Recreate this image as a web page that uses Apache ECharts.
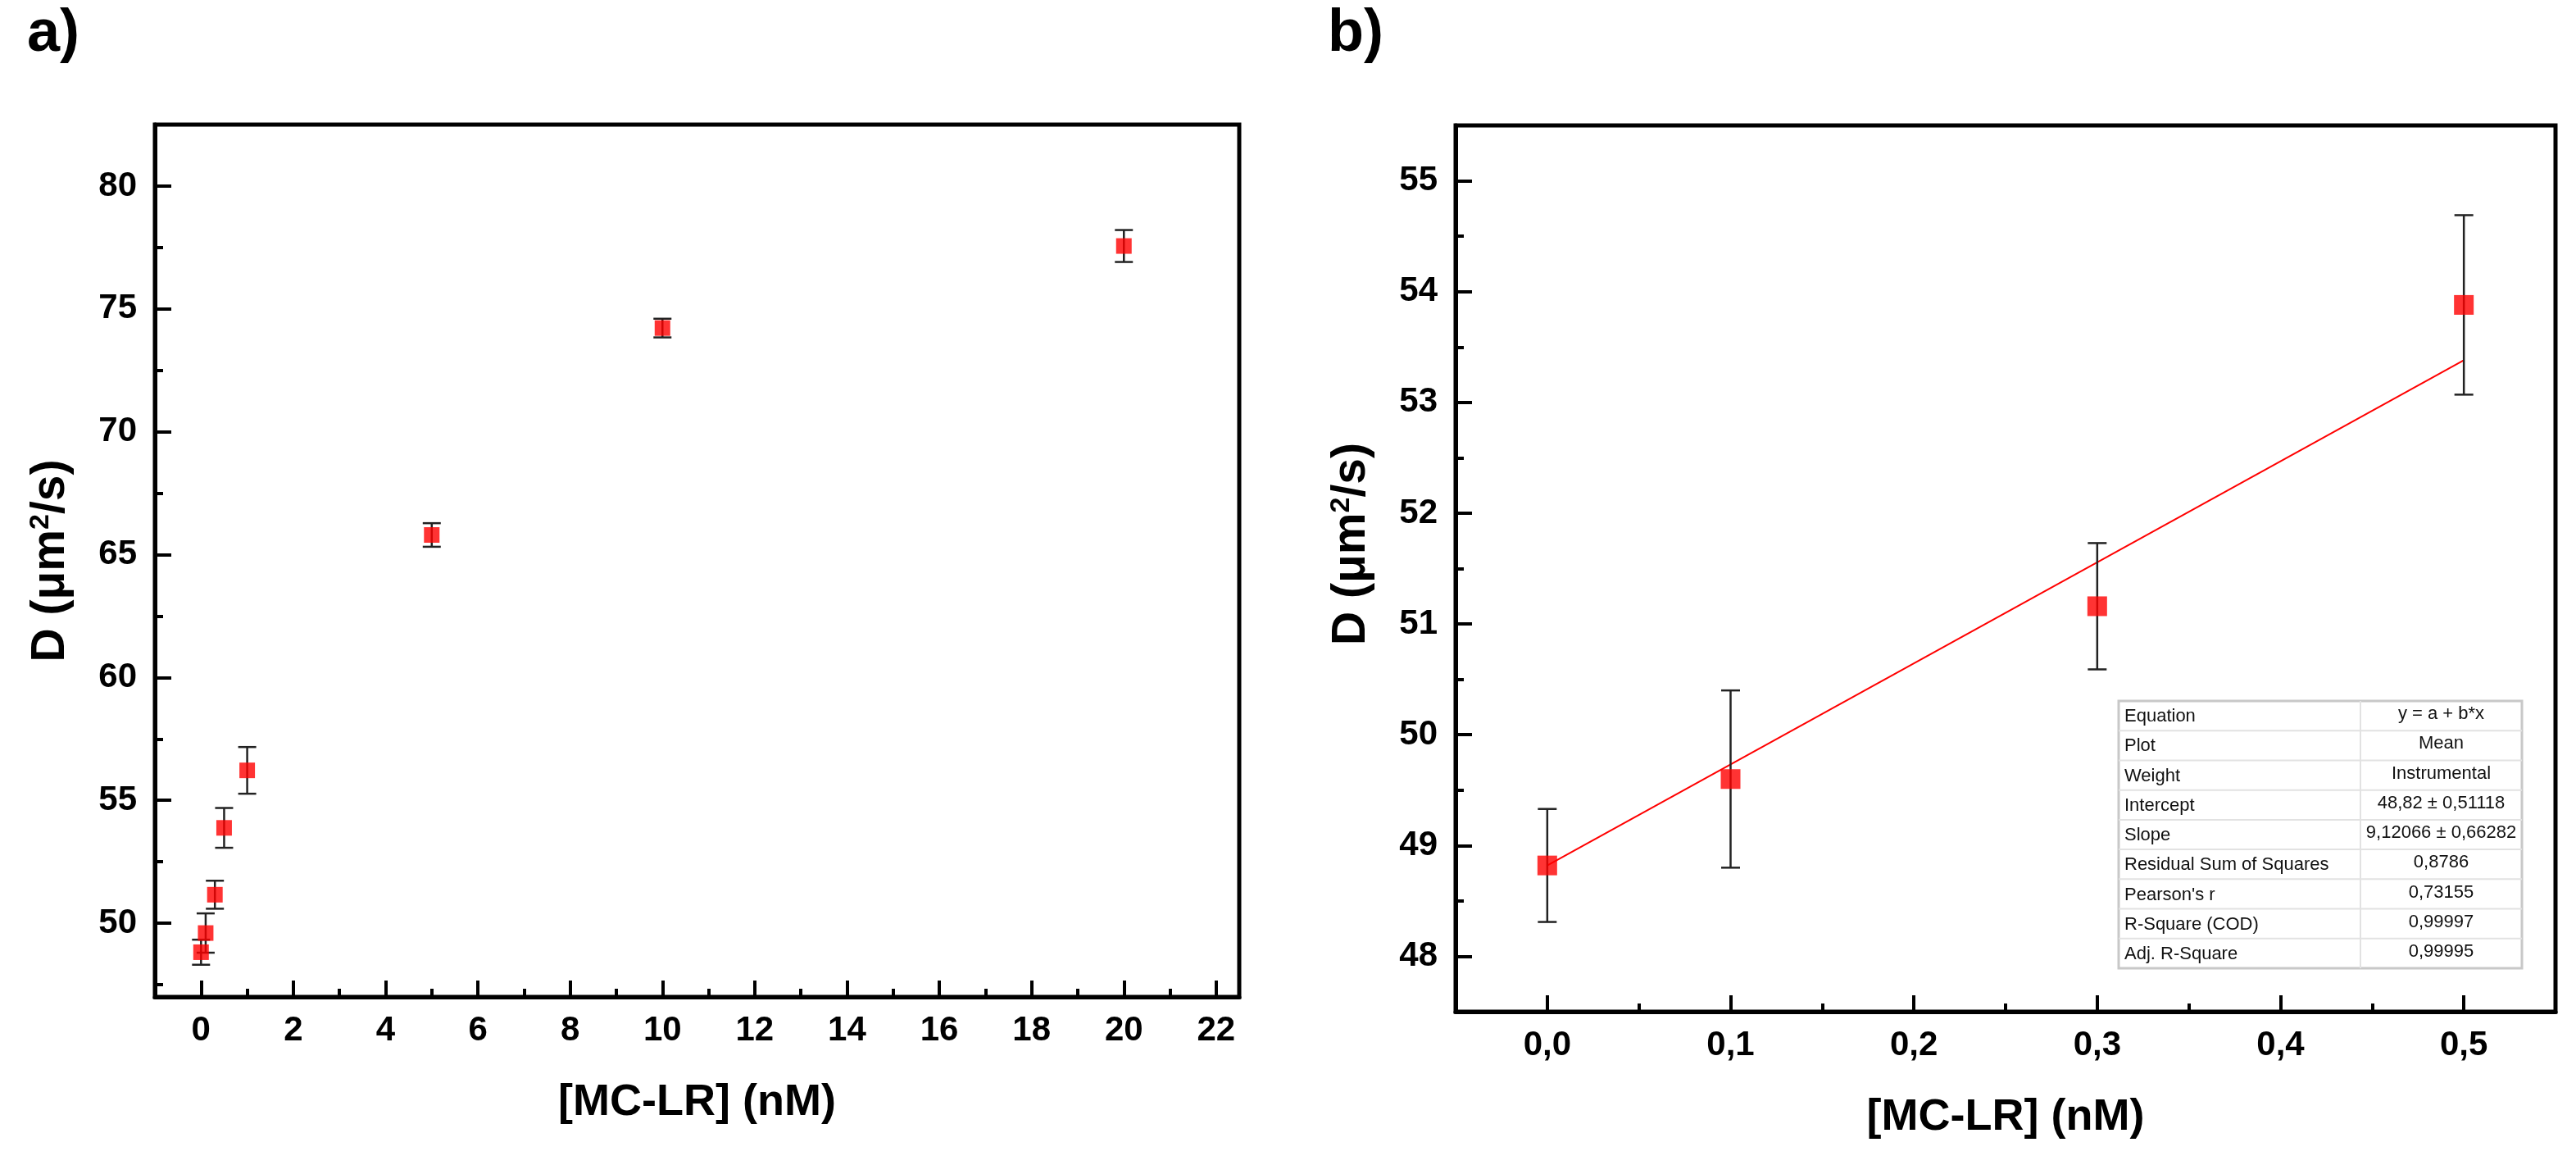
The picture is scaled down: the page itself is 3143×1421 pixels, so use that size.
<!DOCTYPE html>
<html>
<head>
<meta charset="utf-8">
<script src="https://cdn.jsdelivr.net/npm/echarts@6/dist/echarts.min.js"></script>
<style>
  html, body { margin: 0; padding: 0; background: #ffffff; }
  #chart { width: 3143px; height: 1421px; }
</style>
</head>
<body>
<div id="chart"></div>
<script>
// ---------- data ----------
const panelLabels = ['a)', 'b)'];
const xTitle = '[MC-LR] (nM)';
const yTitle = 'D (μm{sup|2}/s)';

// panel a
const concA = [0, 0.1, 0.3, 0.5, 1, 5, 10, 20];
const diffA = [48.82, 49.60, 51.16, 53.88, 56.22, 65.80, 74.22, 77.56];
const errA  = [0.51, 0.80, 0.57, 0.81, 0.95, 0.48, 0.38, 0.65];

// panel b
const concB = [0, 0.1, 0.3, 0.5];
const diffB = [48.82, 49.60, 51.16, 53.88];
const errB  = [0.51, 0.80, 0.57, 0.81];

// linear fit line endpoints (y = a + b*x)
const fitX = [0, 0.5];
const fitY = [48.82, 53.38];

// tick values / labels
const aXMajor = [0, 2, 4, 6, 8, 10, 12, 14, 16, 18, 20, 22];
const aXLabels = ['0', '2', '4', '6', '8', '10', '12', '14', '16', '18', '20', '22'];
const aXMinor = [1, 3, 5, 7, 9, 11, 13, 15, 17, 19, 21];
const aYMajor = [50, 55, 60, 65, 70, 75, 80];
const aYLabels = ['50', '55', '60', '65', '70', '75', '80'];
const aYMinor = [47.5, 52.5, 57.5, 62.5, 67.5, 72.5, 77.5];

const bXMajor = [0, 0.1, 0.2, 0.3, 0.4, 0.5];
const bXLabels = ['0,0', '0,1', '0,2', '0,3', '0,4', '0,5'];
const bXMinor = [0.05, 0.15, 0.25, 0.35, 0.45];
const bYMajor = [48, 49, 50, 51, 52, 53, 54, 55];
const bYLabels = ['48', '49', '50', '51', '52', '53', '54', '55'];
const bYMinor = [48.5, 49.5, 50.5, 51.5, 52.5, 53.5, 54.5];

// fit table
const tableLabels = ['Equation', 'Plot', 'Weight', 'Intercept', 'Slope',
  'Residual Sum of Squares', "Pearson's r", 'R-Square (COD)', 'Adj. R-Square'];
const tableValues = ['y = a + b*x', 'Mean', 'Instrumental', '48,82 ± 0,51118',
  '9,12066 ± 0,66282', '0,8786', '0,73155', '0,99997', '0,99995'];

// ---------- helpers ----------
const FONT = 'Liberation Sans';
function labelFor(vals, labels) {
  return function (v) {
    for (let i = 0; i < vals.length; i++) if (Math.abs(vals[i] - v) < 1e-9) return labels[i];
    return '';
  };
}
function nameStyle(fontSize, padding) {
  return { fontFamily: FONT, fontWeight: 'bold', fontSize: fontSize, color: '#000', padding: padding,
    rich: { sup: { fontFamily: FONT, fontWeight: 'bold', fontSize: 34, verticalAlign: 'top', color: '#000', padding: [0, 0, 24, 0] } } };
}
function majorAxis(opts) {
  return Object.assign({
    type: 'value',
    axisLine: { show: true, onZero: false, lineStyle: { color: '#000', width: 5 } },
    axisTick: { show: true, inside: true, length: 20, customValues: opts.major,
      lineStyle: { color: '#000', width: 4 } },
    axisLabel: { show: true, customValues: opts.major, formatter: labelFor(opts.major, opts.labels),
      fontFamily: FONT, fontWeight: 'bold', fontSize: 42, color: '#000', margin: opts.margin },
    splitLine: { show: false },
    minorTick: { show: false }
  }, opts.extra);
}
function minorAxis(opts) {
  return Object.assign({
    type: 'value',
    axisLine: { show: false, onZero: false },
    axisTick: { show: true, inside: true, length: 10, customValues: opts.minor,
      lineStyle: { color: '#000', width: 4 } },
    axisLabel: { show: false },
    splitLine: { show: false }
  }, opts.extra);
}
function errorSeries(xs, ys, es, xi, yi, capHalf) {
  return {
    type: 'custom',
    xAxisIndex: xi, yAxisIndex: yi,
    z: 3,
    data: xs.map((x, i) => [x, ys[i] - es[i], ys[i] + es[i]]),
    encode: { x: 0, y: [1, 2] },
    renderItem: function (params, api) {
      const x = api.value(0);
      const lo = api.coord([x, api.value(1)]);
      const hi = api.coord([x, api.value(2)]);
      const st = { stroke: '#222', lineWidth: 2.5 };
      return {
        type: 'group',
        children: [
          { type: 'line', shape: { x1: lo[0], y1: lo[1], x2: hi[0], y2: hi[1] }, style: st },
          { type: 'line', shape: { x1: lo[0] - capHalf, y1: lo[1], x2: lo[0] + capHalf, y2: lo[1] }, style: st },
          { type: 'line', shape: { x1: hi[0] - capHalf, y1: hi[1], x2: hi[0] + capHalf, y2: hi[1] }, style: st }
        ]
      };
    }
  };
}

// ---------- table graphic ----------
const T = { left: 2585, right: 3077, top: 855, bottom: 1181, split: 2880 };
const rowH = (T.bottom - T.top) / tableLabels.length;
const tableEls = [];
tableEls.push({ type: 'rect', shape: { x: T.left, y: T.top, width: T.right - T.left, height: T.bottom - T.top },
  style: { fill: '#ffffff', stroke: '#c8c8c8', lineWidth: 3 }, z: 10 });
for (let i = 1; i < tableLabels.length; i++) {
  const y = T.top + rowH * i;
  tableEls.push({ type: 'line', shape: { x1: T.left, y1: y, x2: T.right, y2: y },
    style: { stroke: '#e2e2e2', lineWidth: 2 }, z: 11 });
}
tableEls.push({ type: 'line', shape: { x1: T.split, y1: T.top, x2: T.split, y2: T.bottom },
  style: { stroke: '#e2e2e2', lineWidth: 2 }, z: 11 });
tableLabels.forEach((t, i) => {
  tableEls.push({ type: 'text', z: 12, style: { text: t, x: T.left + 7, y: T.top + rowH * (i + 0.5) + 1,
    fontFamily: FONT, fontSize: 22, fill: '#111', align: 'left', verticalAlign: 'middle' } });
});
tableValues.forEach((t, i) => {
  tableEls.push({ type: 'text', z: 12, style: { text: t, x: (T.split + T.right) / 2, y: T.top + rowH * (i + 0.5) - 2,
    fontFamily: FONT, fontSize: 22, fill: '#111', align: 'center', verticalAlign: 'middle' } });
});

// ---------- option ----------
const option = {
  backgroundColor: '#ffffff',
  animation: false,
  title: [
    { text: panelLabels[0], left: 33, top: 6, padding: 0,
      textStyle: { fontFamily: FONT, fontWeight: 'bold', fontSize: 72, color: '#000' } },
    { text: panelLabels[1], left: 1620, top: 6, padding: 0,
      textStyle: { fontFamily: FONT, fontWeight: 'bold', fontSize: 72, color: '#000' } }
  ],
  grid: [
    { left: 189, top: 152, width: 1323, height: 1064, show: true, borderColor: '#000', borderWidth: 5, backgroundColor: 'transparent' },
    { left: 1776, top: 153, width: 1342, height: 1081, show: true, borderColor: '#000', borderWidth: 5, backgroundColor: 'transparent' }
  ],
  xAxis: [
    majorAxis({ major: aXMajor, labels: aXLabels, margin: 20, extra: { gridIndex: 0, position: 'bottom', min: -1, max: 22.5,
      name: xTitle, nameLocation: 'middle', nameGap: 102, nameTextStyle: nameStyle(54, 0) } }),
    minorAxis({ minor: aXMinor, extra: { gridIndex: 0, position: 'bottom', min: -1, max: 22.5 } }),
    majorAxis({ major: bXMajor, labels: bXLabels, margin: 20, extra: { gridIndex: 1, position: 'bottom', min: -0.05, max: 0.55,
      name: xTitle, nameLocation: 'middle', nameGap: 102, nameTextStyle: nameStyle(54, 0) } }),
    minorAxis({ minor: bXMinor, extra: { gridIndex: 1, position: 'bottom', min: -0.05, max: 0.55 } })
  ],
  yAxis: [
    majorAxis({ major: aYMajor, labels: aYLabels, margin: 22, extra: { gridIndex: 0, position: 'left', min: 47, max: 82.5,
      name: yTitle, nameLocation: 'middle', nameGap: 98, nameRotate: 90, nameTextStyle: nameStyle(57, 0) } }),
    minorAxis({ minor: aYMinor, extra: { gridIndex: 0, position: 'left', min: 47, max: 82.5 } }),
    majorAxis({ major: bYMajor, labels: bYLabels, margin: 22, extra: { gridIndex: 1, position: 'left', min: 47.5, max: 55.5,
      name: yTitle, nameLocation: 'middle', nameGap: 98, nameRotate: 90, nameTextStyle: nameStyle(57, [0, 0, 0, 60]) } }),
    minorAxis({ minor: bYMinor, extra: { gridIndex: 1, position: 'left', min: 47.5, max: 55.5 } })
  ],
  series: [
    errorSeries(concA, diffA, errA, 0, 0, 11),
    { type: 'scatter', xAxisIndex: 0, yAxisIndex: 0, z: 4, symbol: 'rect', symbolSize: 19,
      itemStyle: { color: '#ff0000' }, data: concA.map((x, i) => [x, diffA[i]]) },
    { type: 'line', xAxisIndex: 2, yAxisIndex: 2, z: 2, symbol: 'none', silent: true,
      lineStyle: { color: '#ff0000', width: 2 }, data: fitX.map((x, i) => [x, fitY[i]]) },
    errorSeries(concB, diffB, errB, 2, 2, 11.5),
    { type: 'scatter', xAxisIndex: 2, yAxisIndex: 2, z: 4, symbol: 'rect', symbolSize: 24,
      itemStyle: { color: '#ff0000' }, data: concB.map((x, i) => [x, diffB[i]]) }
  ],
  graphic: tableEls
};

const chart = echarts.init(document.getElementById('chart'), null, { renderer: 'canvas' });
chart.setOption(option);
</script>
</body>
</html>
